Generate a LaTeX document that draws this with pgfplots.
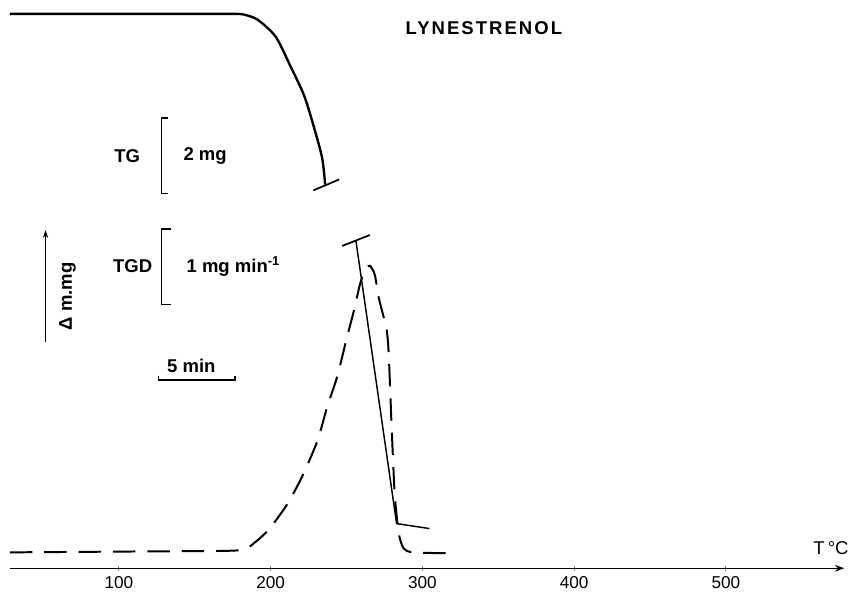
\documentclass[border=0pt]{standalone}
\usepackage{pgfplots}
\pgfplotsset{compat=1.18}
\usepackage{fontspec}
\setmainfont{Liberation Sans}
\newfontfamily\spaced[LetterSpace=11]{Liberation Sans}
\usetikzlibrary{arrows.meta}
\begin{document}
\begin{tikzpicture}
\begin{axis}[
 x=1.1475pt, y=0.75pt,
 xmin=28, xmax=578, ymin=-21, ymax=573,
 axis x line=middle, axis y line=none,
 x axis line style={-{Stealth[length=7pt,width=5pt]}, line width=0.9pt},
 xtick={100,200,300,400,500},
 ytick=\empty,
 major tick length=4pt,
 tick style={line width=0.8pt},
 xticklabel style={font=\fontsize{13}{15}\selectfont, yshift=-1pt},
 /pgf/number format/assume math mode=true,
 clip=false,
]
\path (axis cs:21.6,-21) rectangle (axis cs:579.6,573);
% TG curve
\addplot[line width=1.8pt, smooth, tension=0.45] coordinates {
 (28.1,559) (120,559) (175,559) (183,558) (191.5,553) (203.3,536) (213.1,506) (222.2,476) (229.4,440) (234.0,413) (235.9,387)};
\addplot[line width=1.3pt] coordinates {(228.1,381) (245.1,392)};
% TGD solid
\addplot[line width=1.1pt] coordinates {(256.2,330) (283.0,45) (304.6,40)};
\addplot[line width=1.3pt] coordinates {(247.1,325) (265.4,336)};
% TGD dashed
\addplot[line width=1.5pt, dash pattern=on 17pt off 9pt, smooth, tension=0.4] coordinates {
 (28.1,16) (120,17) (178.4,18) (189.5,26) (199.3,40) (211.1,65) (220.9,93) (230.7,128) (237.3,163) (243.8,193) (250.3,233) (254.9,260) (258.8,286) (262.1,301) (265.4,305) (268.6,296) (271.2,273) (274.5,253) (276.5,240) (277.8,216) (279.7,143) (281.7,76) (284.3,36) (287.6,20) (294.1,16) (320.9,15)};
% annotations
\begin{scope}[every node/.style={font=\bfseries\fontsize{14}{16}\selectfont}]
\node[anchor=east] at (axis cs:117,416) {TG};
\draw[line width=1.2pt] (axis cs:132,454) -- (axis cs:128.1,454) -- (axis cs:128.1,378) -- (axis cs:132,378);
\node[anchor=west] at (axis cs:139.5,416) {2 mg};
\node[anchor=east] at (axis cs:125,305) {TGD};
\draw[line width=1.2pt] (axis cs:134,342) -- (axis cs:128.1,342) -- (axis cs:128.1,266) -- (axis cs:134,266);
\node[anchor=west] at (axis cs:141.5,304) {1 mg min\textsuperscript{-1}};
\node at (axis cs:147.7,204) {5 min};
\draw[line width=1.2pt] (axis cs:126.1,194) -- (axis cs:126.1,190) -- (axis cs:176.5,190) -- (axis cs:176.5,194);
\draw[line width=1pt, -{Stealth[length=6pt,width=4pt]}] (axis cs:51.6,228) -- (axis cs:51.6,341);
\node[rotate=90] at (axis cs:66,274) {Δ m.mg};
\node at (axis cs:340.5,545) {\spaced\bfseries LYNESTRENOL};
\node[font=\fontsize{14}{16}\selectfont] at (axis cs:569.3,20) {T\,°C};
\end{scope}
\end{axis}
\end{tikzpicture}
\end{document}
